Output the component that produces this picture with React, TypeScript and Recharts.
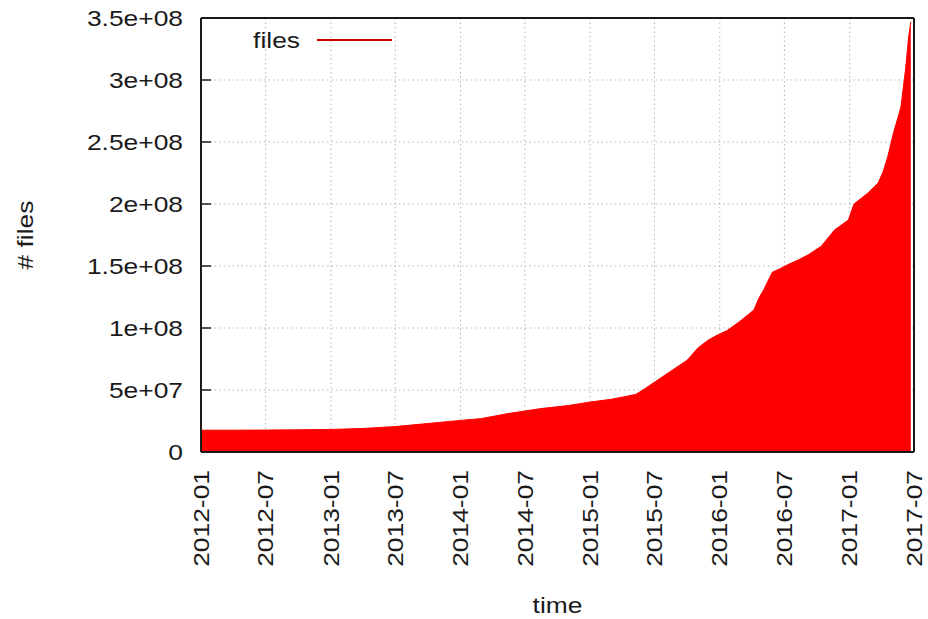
import React from "react";
import {
  AreaChart,
  Area,
  XAxis,
  YAxis,
  CartesianGrid,
  Legend,
  Label,
} from "recharts";

// cumulative file count, sampled at the visible bends of the curve
const dates = [
  "2012-01-01", "2012-04-01", "2012-07-01", "2012-10-01", "2013-01-01",
  "2013-04-01", "2013-07-01", "2013-10-01", "2014-01-01", "2014-03-01",
  "2014-05-15", "2014-08-15", "2014-11-01", "2015-01-01", "2015-03-01",
  "2015-04-15", "2015-05-10", "2015-06-01", "2015-07-10", "2015-08-15",
  "2015-10-01", "2015-11-01", "2015-11-28", "2015-12-20", "2016-01-22",
  "2016-02-25", "2016-04-06", "2016-04-20", "2016-05-04", "2016-05-28",
  "2016-06-20", "2016-07-10", "2016-08-10", "2016-09-06", "2016-10-13",
  "2016-11-19", "2016-12-28", "2017-01-13", "2017-02-22", "2017-03-22",
  "2017-04-05", "2017-04-18", "2017-05-04", "2017-05-25", "2017-06-07",
  "2017-06-16", "2017-06-22",
];

const files = [
  17.6e6, 17.6e6, 17.7e6, 17.9e6, 18.2e6,
  19.0e6, 20.5e6, 23.0e6, 25.5e6, 27.0e6,
  31.0e6, 35.0e6, 37.5e6, 40.3e6, 42.5e6,
  45.0e6, 46.5e6, 50.5e6, 58.0e6, 65.0e6,
  74.0e6, 84.0e6, 90.0e6, 93.5e6, 98.0e6,
  105.0e6, 114.5e6, 124.0e6, 131.0e6, 145.0e6,
  148.0e6, 151.0e6, 155.0e6, 159.0e6, 166.0e6,
  179.0e6, 187.0e6, 200.0e6, 209.0e6, 217.0e6,
  226.0e6, 238.0e6, 257.0e6, 278.0e6, 308.0e6,
  335.0e6, 347.0e6,
];

const xTicks = [
  "2012-01", "2012-07", "2013-01", "2013-07", "2014-01", "2014-07",
  "2015-01", "2015-07", "2016-01", "2016-07", "2017-01", "2017-07",
];

const yTicks = [0, 5e7, 1e8, 1.5e8, 2e8, 2.5e8, 3e8, 3.5e8];

const toTime = (s: string) => {
  const [y, m, d] = s.split("-").map(Number);
  return Date.UTC(y, m - 1, d || 1);
};

const data = dates.map((d, i) => ({ t: toTime(d), files: files[i] }));
const xTickTimes = xTicks.map(toTime);
const xDomain = [xTickTimes[0], xTickTimes[xTickTimes.length - 1]];

const monthLabel = (t: number) => {
  const d = new Date(t);
  return `${d.getUTCFullYear()}-${String(d.getUTCMonth() + 1).padStart(2, "0")}`;
};

// gnuplot style: 5e+07, 1.5e+08
const sci = (v: number) => {
  if (v === 0) return "0";
  const [m, e] = v.toExponential().split("e");
  return `${m}e${e[0]}${e.slice(1).padStart(2, "0")}`;
};

const FONT = "Liberation Sans, Arial, sans-serif";
const INK = "#1a1a1a";
const STRETCH = 1.2;

const YTick = (props: any) => {
  const { x, y, payload } = props;
  return (
    <g>
      <text
        transform={`translate(${x},${y}) scale(${STRETCH},1)`}
        textAnchor="end"
        dominantBaseline="central"
        fontSize={22}
        fontFamily={FONT}
        fill={INK}
      >
        {sci(payload.value)}
      </text>
      <line x1={x + 18} x2={x + 28} y1={y} y2={y} stroke={INK} strokeWidth={1.5} />
    </g>
  );
};

const RightTick = (props: any) => {
  const { x, y } = props;
  return <line x1={x - 10} x2={x} y1={y} y2={y} stroke={INK} strokeWidth={1.5} />;
};

const XTick = (props: any) => {
  const { x, y, payload } = props;
  return (
    <text
      transform={`translate(${x},${y}) rotate(-90) scale(${STRETCH},1)`}
      textAnchor="end"
      dominantBaseline="central"
      fontSize={22}
      fontFamily={FONT}
      fill={INK}
    >
      {monthLabel(payload.value)}
    </text>
  );
};

const FilesLegend = () => (
  <svg width={420} height={60} style={{ display: "block" }}>
    <text
      transform={`translate(300,40) scale(${STRETCH},1)`}
      textAnchor="end"
      dominantBaseline="central"
      fontSize={22}
      fontFamily={FONT}
      fill={INK}
    >
      files
    </text>
    <line x1={317} x2={392} y1={40} y2={40} stroke="#d00000" strokeWidth={2} />
  </svg>
);

export default function App() {
  return (
    <div style={{ position: "absolute", left: 0, top: 0, background: "#fff" }}>
      <AreaChart
        width={928}
        height={619}
        data={data}
        margin={{ top: 0, right: 0, bottom: 0, left: 0 }}
      >
        <CartesianGrid
          stroke="#b5b5b5"
          strokeDasharray="1.5 3"
          xAxisId="bottom"
          yAxisId="left"
        />
        <XAxis
          xAxisId="bottom"
          dataKey="t"
          type="number"
          scale="linear"
          domain={xDomain}
          ticks={xTickTimes}
          interval={0}
          height={167}
          tickSize={0}
          tickMargin={18}
          tickLine={false}
          tick={<XTick />}
          axisLine={{ stroke: INK, strokeWidth: 2 }}
        >
          <Label
            content={({ viewBox }: any) => (
              <text
                transform={`translate(${viewBox.x + viewBox.width / 2},${viewBox.y + 153}) scale(${STRETCH},1)`}
                textAnchor="middle"
                dominantBaseline="central"
                fontSize={22}
                fontFamily={FONT}
                fill={INK}
              >
                time
              </text>
            )}
          />
        </XAxis>
        <XAxis
          xAxisId="top"
          dataKey="t"
          type="number"
          orientation="top"
          domain={xDomain}
          ticks={xTickTimes}
          height={18}
          tick={false}
          tickLine={false}
          axisLine={{ stroke: INK, strokeWidth: 2 }}
        />
        <YAxis
          yAxisId="left"
          domain={[0, 3.5e8]}
          ticks={yTicks}
          interval={0}
          width={201}
          tickSize={0}
          tickMargin={18}
          tickLine={false}
          tick={<YTick />}
          axisLine={{ stroke: INK, strokeWidth: 2 }}
        >
          <Label
            content={({ viewBox }: any) => (
              <text
                transform={`translate(25,${viewBox.y + viewBox.height / 2}) rotate(-90) scale(${STRETCH},1)`}
                textAnchor="middle"
                dominantBaseline="central"
                fontSize={22}
                fontFamily={FONT}
                fill={INK}
              >
                # files
              </text>
            )}
          />
        </YAxis>
        <YAxis
          yAxisId="right"
          orientation="right"
          domain={[0, 3.5e8]}
          ticks={yTicks}
          interval={0}
          width={14}
          tickSize={0}
          tickMargin={0}
          tickLine={false}
          tick={<RightTick />}
          axisLine={{ stroke: INK, strokeWidth: 2 }}
        />
        {/* middle alignment keeps the legend from reserving space above the plot */}
        <Legend
          verticalAlign="middle"
          align="center"
          layout="horizontal"
          wrapperStyle={{ position: "absolute", left: 0, top: 0, width: 420 }}
          content={() => <FilesLegend />}
        />
        <Area
          xAxisId="bottom"
          yAxisId="left"
          type="linear"
          dataKey="files"
          name="files"
          stroke="#ff0000"
          strokeWidth={1}
          fill="#ff0000"
          fillOpacity={1}
          dot={false}
          activeDot={false}
          isAnimationActive={false}
        />
      </AreaChart>
    </div>
  );
}
